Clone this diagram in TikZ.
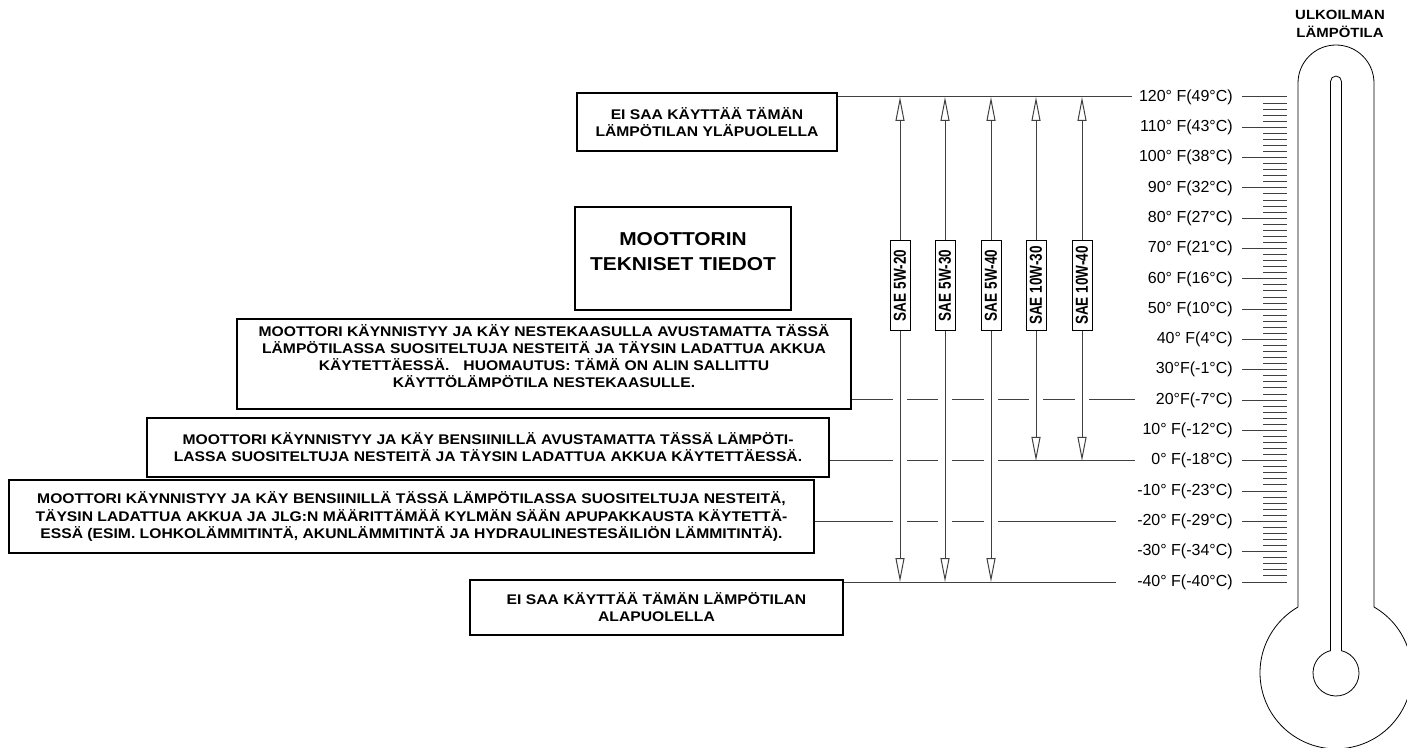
\documentclass[tikz,border=0pt]{standalone}
\usepackage{fontspec}
\setmainfont{Liberation Sans}
\newfontfamily\wideface{Liberation Sans}[FakeStretch=1.12]
\newfontfamily\narrowface{Liberation Sans}[FakeStretch=0.78]
\usetikzlibrary{arrows.meta}

\begin{document}
\begin{tikzpicture}[x=0.75pt,y=0.75pt,yscale=-1,xscale=1,
  note/.style={draw,line width=1.5pt,align=center,inner sep=0pt,font=\wideface\bfseries\fontsize{10.5}{12.8}\selectfont},
  oil/.style={draw,line width=0.75pt,rotate=90,minimum width=67.5pt,minimum height=15pt,inner sep=0pt,font=\narrowface\bfseries\fontsize{13}{14}\selectfont},
  level/.style={line width=0.75pt,black!75},
  oilline/.style={line width=0.75pt,black!75,-{Triangle[open,length=18pt,width=6.75pt]}},
  temp/.style={anchor=east,inner sep=0pt,font=\fontsize{12}{14}\selectfont},
  tick/.style={line width=0.75pt,black!75}]
\useasboundingbox (0,0) rectangle (1407,748);

%Temperature levels
\coordinate (lvl120) at (1132,97);
\coordinate (lvl20) at (1135,400);
\coordinate (lvl0) at (1135,461);
\coordinate (lvlm20) at (1116,521.7);
\coordinate (lvlm40) at (1116,582);

% Text Node
\node[note,minimum width=195pt,minimum height=43.5pt] (lim120) at (707,122) {EI SAA KÄYTTÄÄ TÄMÄN\\LÄMPÖTILAN YLÄPUOLELLA};
% Text Node
\node[note,minimum width=162pt,minimum height=77.25pt,text depth=10.5pt,font=\wideface\bfseries\fontsize{14}{18.75}\selectfont] (spec) at (683,258.5) {MOOTTORIN\\TEKNISET TIEDOT};
% Text Node
\node[note,minimum width=460.5pt,minimum height=67.5pt,text depth=12pt] (lpg) at (544,364) {MOOTTORI KÄYNNISTYY JA KÄY NESTEKAASULLA AVUSTAMATTA TÄSSÄ\\LÄMPÖTILASSA SUOSITELTUJA NESTEITÄ JA TÄYSIN LADATTUA AKKUA\\KÄYTETTÄESSÄ.\quad HUOMAUTUS: TÄMÄ ON ALIN SALLITTU\\KÄYTTÖLÄMPÖTILA NESTEKAASULLE.};
% Text Node
\node[note,minimum width=511.5pt,minimum height=44.25pt] (gas) at (488,447.5) {MOOTTORI KÄYNNISTYY JA KÄY BENSIINILLÄ AVUSTAMATTA TÄSSÄ LÄMPÖTI-\\LASSA SUOSITELTUJA NESTEITÄ JA TÄYSIN LADATTUA AKKUA KÄYTETTÄESSÄ.};
% Text Node
\node[note,minimum width=603.75pt,minimum height=54.75pt] (cold) at (411.5,516.5) {MOOTTORI KÄYNNISTYY JA KÄY BENSIINILLÄ TÄSSÄ LÄMPÖTILASSA SUOSITELTUJA NESTEITÄ,\\TÄYSIN LADATTUA AKKUA JA JLG:N MÄÄRITTÄMÄÄ KYLMÄN SÄÄN APUPAKKAUSTA KÄYTETTÄ-\\ESSÄ (ESIM. LOHKOLÄMMITINTÄ, AKUNLÄMMITINTÄ JA HYDRAULINESTESÄILIÖN LÄMMITINTÄ).};
% Text Node
\node[note,minimum width=279.75pt,minimum height=41.25pt] (lim40) at (656.5,607.5) {EI SAA KÄYTTÄÄ TÄMÄN LÄMPÖTILAN\\ALAPUOLELLA};

%Oil grades
\node[oil] (o520) at (900,285.5) {SAE 5W-20};
\node[oil] (o530) at (945,285.5) {SAE 5W-30};
\node[oil] (o540) at (991,285.5) {SAE 5W-40};
\node[oil] (o1030) at (1036,285.5) {SAE 10W-30};
\node[oil] (o1040) at (1082,285.5) {SAE 10W-40};

%Straight Lines
\draw[level] (lim120.east |- lvl120) -- (lvl120);
\draw[level] (lpg.east |- lvl20) -- (893,400);
\draw[level] (907,400) -- (938,400);
\draw[level] (952,400) -- (984,400);
\draw[level] (998,400) -- (1029,400);
\draw[level] (1043,400) -- (1075,400);
\draw[level] (1089,400) -- (lvl20);
\draw[level] (gas.east |- lvl0) -- (893,461);
\draw[level] (907,461) -- (938,461);
\draw[level] (952,461) -- (984,461);
\draw[level] (998,461) -- (lvl0);
\draw[level] (cold.east |- lvlm20) -- (893,521.7);
\draw[level] (907,521.7) -- (938,521.7);
\draw[level] (952,521.7) -- (984,521.7);
\draw[level] (998,521.7) -- (lvlm20);
\draw[level] (lim40.east |- lvlm40) -- (lvlm40);

%Arrows
\draw[oilline] (o520.east) -- (o520.east |- lvl120);
\draw[oilline] (o520.west) -- (o520.west |- lvlm40);
\draw[oilline] (o530.east) -- (o530.east |- lvl120);
\draw[oilline] (o530.west) -- (o530.west |- lvlm40);
\draw[oilline] (o540.east) -- (o540.east |- lvl120);
\draw[oilline] (o540.west) -- (o540.west |- lvlm40);
\draw[oilline] (o1030.east) -- (o1030.east |- lvl120);
\draw[oilline] (o1030.west) -- (o1030.west |- lvl0);
\draw[oilline] (o1040.east) -- (o1040.east |- lvl120);
\draw[oilline] (o1040.west) -- (o1040.west |- lvl0);

%Thermometer scale
\foreach \j in {0,...,80} \draw[tick] (1263,{97+\j*6.0625}) -- (1287,{97+\j*6.0625});
\foreach \k/\txt in {0/{120° F(49°C)},1/{110° F(43°C)},2/{100° F(38°C)},3/{90° F(32°C)},4/{80° F(27°C)},5/{70° F(21°C)},6/{60° F(16°C)},7/{50° F(10°C)},8/{40° F(4°C)},9/{30°F(-1°C)},10/{20°F(-7°C)},11/{10° F(-12°C)},12/{0° F(-18°C)},13/{-10° F(-23°C)},14/{-20° F(-29°C)},15/{-30° F(-34°C)},16/{-40° F(-40°C)}}{
  \node[temp] (t\k) at (1233,{97+\k*30.3125}) {\txt};
  \draw[tick] (1242,{97+\k*30.3125}) -- (1287,{97+\k*30.3125});
}

%Shape: Thermometer
\draw[line width=0.6pt] (1298,607) -- (1298,83) arc[start angle=180,end angle=360,radius=38] -- (1374,607) arc[start angle=-60,end angle=240,radius=76] -- cycle;
\draw[line width=0.6pt] (1330.5,650.67) -- (1330.5,81.5) arc[start angle=180,end angle=360,radius=5.5] -- (1341.5,650.67) arc[start angle=-76.16,end angle=256.16,radius=23] -- cycle;

% Text Node
\node[align=center,font=\wideface\bfseries\fontsize{10}{13.5}\selectfont] (hdr) at (1340,24) {ULKOILMAN\\LÄMPÖTILA};
\end{tikzpicture}
\end{document}
